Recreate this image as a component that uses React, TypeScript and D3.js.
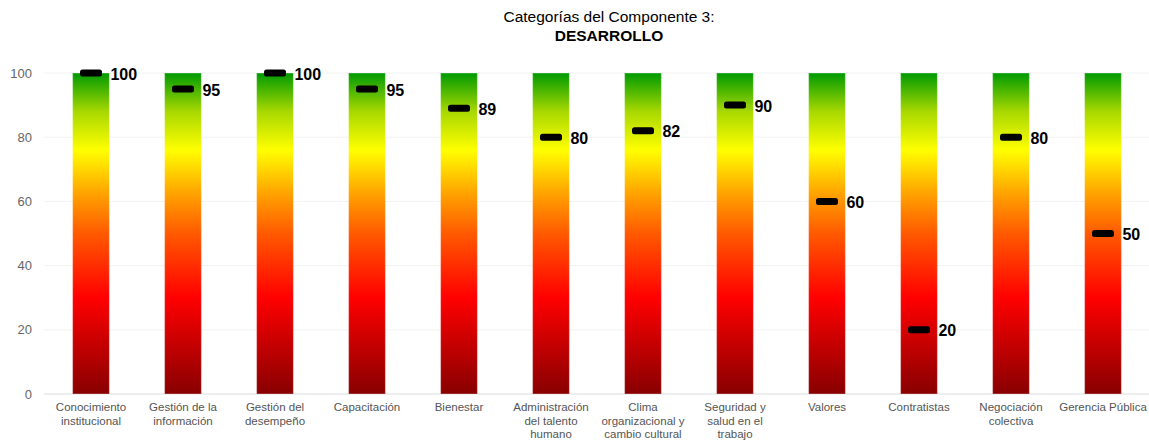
import { useRef, useEffect } from "react";
import { select, scaleBand, scaleLinear } from "d3";

const categories = [
  ["Conocimiento", "institucional"],
  ["Gestión de la", "información"],
  ["Gestión del", "desempeño"],
  ["Capacitación"],
  ["Bienestar"],
  ["Administración", "del talento", "humano"],
  ["Clima", "organizacional y", "cambio cultural"],
  ["Seguridad y", "salud en el", "trabajo"],
  ["Valores"],
  ["Contratistas"],
  ["Negociación", "colectiva"],
  ["Gerencia Pública"],
];
const scores = [100, 95, 100, 95, 89, 80, 82, 90, 60, 20, 80, 50];
const yTicks = [0, 20, 40, 60, 80, 100];

const W = 1149;
const H = 440;

const App = () => {
  const svgRef = useRef<SVGSVGElement>(null);

  useEffect(() => {
    const svg = select(svgRef.current);
    svg.selectAll("*").remove();

    const x = scaleBand<number>()
      .domain(categories.map((_, i) => i))
      .range([45, 1149])
      .paddingInner(0.6)
      .paddingOuter(0.3);
    const y = scaleLinear().domain([0, 100]).range([394, 73]);

    // gradient red -> yellow -> green
    const defs = svg.append("defs");
    const grad = defs
      .append("linearGradient")
      .attr("id", "rg")
      .attr("gradientUnits", "userSpaceOnUse")
      .attr("x1", 0)
      .attr("x2", 0)
      .attr("y1", y(0))
      .attr("y2", y(100));
    [
      [0, "#880000"],
      [0.3, "#ff0000"],
      [0.5, "#ff5a00"],
      [0.62, "#ffa000"],
      [0.76, "#ffff00"],
      [0.88, "#a8d800"],
      [1, "#009a00"],
    ].forEach(([o, c]) => grad.append("stop").attr("offset", o).attr("stop-color", c));

    // title
    const title = svg
      .append("text")
      .attr("text-anchor", "middle")
      .style("font-family", "'Liberation Sans', Arial, sans-serif")
      .style("font-size", "15.5px")
      .attr("fill", "#000");
    title.append("tspan").attr("x", 609).attr("y", 22).text("Categorías del Componente 3:");
    title
      .append("tspan")
      .attr("x", 609)
      .attr("y", 41)
      .style("font-weight", "bold")
      .text("DESARROLLO");

    // grid + y axis
    const g = svg.append("g");
    yTicks.forEach((t) => {
      g.append("line")
        .attr("x1", 44)
        .attr("x2", 1149)
        .attr("y1", y(t))
        .attr("y2", y(t))
        .attr("stroke", t === 0 ? "#dcdcdc" : "#f2f2f2")
        .attr("stroke-width", 1);
      g.append("text")
        .attr("x", 32)
        .attr("y", y(t))
        .attr("dy", "0.35em")
        .attr("text-anchor", "end")
        .style("font-family", "'Liberation Sans', Arial, sans-serif")
        .style("font-size", "13px")
        .attr("fill", "#666")
        .text(t);
    });

    // bars
    svg
      .selectAll(".bar")
      .data(scores)
      .join("rect")
      .attr("class", "bar")
      .attr("x", (_, i) => x(i)!)
      .attr("width", x.bandwidth())
      .attr("y", y(100))
      .attr("height", y(0) - y(100))
      .attr("fill", "url(#rg)")
      .attr("stroke", "rgba(255,255,255,0.35)")
      .attr("stroke-width", 1);

    // markers
    svg
      .selectAll(".mark")
      .data(scores)
      .join("rect")
      .attr("class", "mark")
      .attr("x", (_, i) => x(i)! + x.bandwidth() / 2 - 11)
      .attr("y", (d) => y(d) - 3.5)
      .attr("width", 22)
      .attr("height", 7)
      .attr("rx", 2.5)
      .attr("fill", "#000");

    // value labels
    svg
      .selectAll(".val")
      .data(scores)
      .join("text")
      .attr("class", "val")
      .attr("x", (_, i) => x(i)! + x.bandwidth() + 1)
      .attr("y", (d) => y(d) + 1)
      .attr("dy", "0.35em")
      .style("font-family", "'Liberation Sans', Arial, sans-serif")
      .style("font-size", "16px")
      .style("font-weight", "bold")
      .attr("fill", "#000")
      .text((d) => d);

    // category labels
    categories.forEach((lines, i) => {
      const t = svg
        .append("text")
        .attr("text-anchor", "middle")
        .style("font-family", "'Liberation Sans', Arial, sans-serif")
        .style("font-size", "11.5px")
        .attr("fill", "#555");
      lines.forEach((l, k) => {
        t.append("tspan")
          .attr("x", x(i)! + x.bandwidth() / 2)
          .attr("y", 411 + k * 13.5)
          .text(l);
      });
    });
  }, []);

  return (
    <svg
      ref={svgRef}
      width={W}
      height={H}
      style={{ position: "absolute", left: 0, top: 0, background: "#fff" }}
    ></svg>
  );
};

export default App;
